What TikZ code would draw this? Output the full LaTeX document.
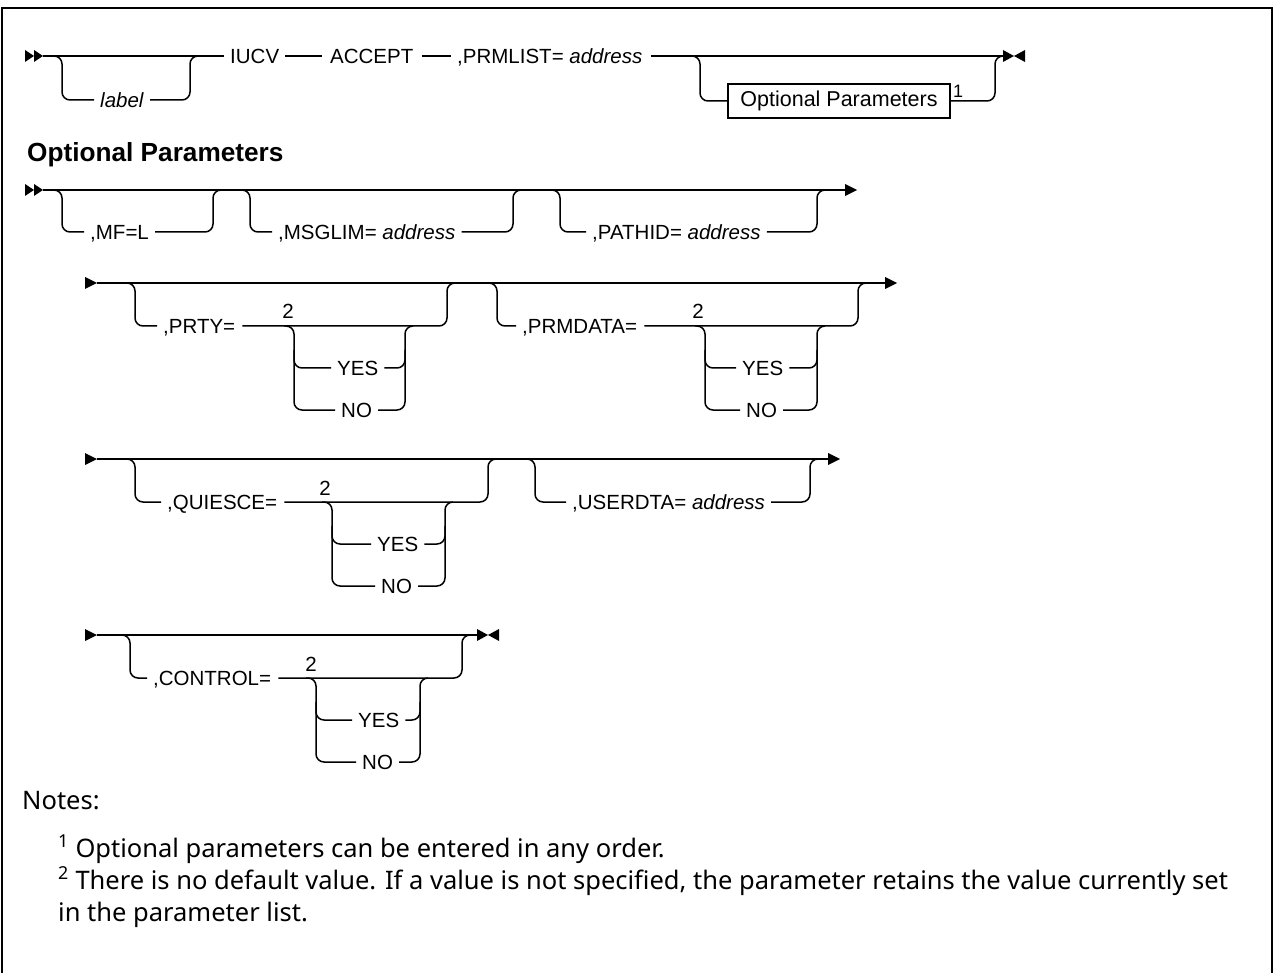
\documentclass[tikz,border=0pt]{standalone}
\usepackage{fontspec}
\setmainfont{Liberation Sans}
\newfontfamily\notefont{Noto Sans}
\begin{document}
\begin{tikzpicture}[x=1pt,y=-1pt,
  rl/.style={line width=1.5pt},
  rr/.style={line width=1.5pt, rounded corners=8pt},
  lbl/.style={anchor=west, inner sep=0pt, font=\fontsize{20.5}{24}\selectfont, text height=14.5pt, text depth=0pt},
  dflt/.style={anchor=base, inner sep=0pt, font=\fontsize{20.5}{24}\selectfont},
  optbox/.style={draw, line width=1.2pt, inner sep=0pt, minimum width=222pt, minimum height=34pt, font=\fontsize{21.5}{24}\selectfont},
  supnum/.style={inner sep=0pt, font=\fontsize{18}{20}\selectfont},
  note/.style={anchor=base west, inner sep=0pt, font=\notefont\fontsize{25.5}{30}\selectfont},
  hdr/.style={anchor=west, inner sep=0pt, font=\bfseries\fontsize{26.2}{30}\selectfont},
  frame/.style={line width=2pt}
]
\useasboundingbox (0,0) rectangle (1274,973);
\draw[frame] (2,973) -- (2,8) -- (1272,8) -- (1272,973);

% ---------------- Row 1 ----------------
\node[lbl] (iucv) at (230,56) {IUCV};
\node[lbl] (accept) at (330,56) {ACCEPT};
\node[lbl] (prmlist) at (457,56) {,PRMLIST= \textit{address}};
\node[lbl] (label) at (100,100) {\textit{label}};
\node[optbox] (optp) at (839,101) {Optional Parameters};
\node[supnum] (n1) at (958,91) {1};
\coordinate (s1) at (43,56);
\coordinate (e1) at (1003,56);
\fill (25,50) -- (34,56) -- (25,62) -- cycle;
\fill (34,50) -- (43,56) -- (34,62) -- cycle;
\fill (1003,50) -- (1014,56) -- (1003,62) -- cycle;
\fill (1025,50) -- (1014,56) -- (1025,62) -- cycle;
\draw[rl] (s1) -- ([xshift=-6pt]iucv.west);
\draw[rl] ([xshift=6pt]iucv.east) -- ([xshift=-8pt]accept.west);
\draw[rl] ([xshift=8pt]accept.east) -- ([xshift=-6pt]prmlist.west);
\draw[rl] ([xshift=8pt]prmlist.east) -- (e1);
\draw[rr] (52,56) -- (62,56) -- (62,100) -- ([xshift=-6pt]label.west);
\draw[rr] ([xshift=6pt]label.east) -- (190,100) -- (190,56) -- (200,56);
\draw[rr] (690,56) -- (700,56) -- (700,101) -- (optp.west);
\draw[rr] (optp.east) -- (995,101) -- (995,56) -- (1003,56);

% ---------------- Row 2 ----------------
\node[hdr] (ophdr) at (27,155) {Optional Parameters};
\node[lbl] (mfl) at (90,232) {,MF=L};
\node[lbl] (msglim) at (278,232) {,MSGLIM= \textit{address}};
\node[lbl] (pathid) at (592,232) {,PATHID= \textit{address}};
\coordinate (s2) at (43,190);
\coordinate (e2) at (845,190);
\fill (25,184) -- (34,190) -- (25,196) -- cycle;
\fill (34,184) -- (43,190) -- (34,196) -- cycle;
\fill (845,184) -- (857,190) -- (845,196) -- cycle;
\draw[rl] (s2) -- (e2);
\draw[rr] (52,190) -- (62,190) -- (62,232) -- ([xshift=-6pt]mfl.west);
\draw[rr] ([xshift=6pt]mfl.east) -- (213,232) -- (213,190) -- (222,190);
\draw[rr] (240,190) -- (250,190) -- (250,232) -- ([xshift=-6pt]msglim.west);
\draw[rr] ([xshift=6pt]msglim.east) -- (513,232) -- (513,190) -- (522,190);
\draw[rr] (550,190) -- (560,190) -- (560,232) -- ([xshift=-6pt]pathid.west);
\draw[rr] ([xshift=6pt]pathid.east) -- (817,232) -- (817,190) -- (826,190);

% ---------------- Row 3 ----------------
\node[lbl] (prty) at (163,326) {,PRTY=};
\node[dflt] (d1) at (288,319) {2};
\node[lbl] (yes1) at (337,368) {YES};
\node[lbl] (no1) at (341,410) {NO};
\node[lbl] (prmdata) at (522,326) {,PRMDATA=};
\node[dflt] (d2) at (698,319) {2};
\node[lbl] (yes2) at (742,368) {YES};
\node[lbl] (no2) at (746,410) {NO};
\coordinate (s3) at (97,283);
\coordinate (e3) at (885,283);
\fill (85,277) -- (97,283) -- (85,289) -- cycle;
\fill (885,277) -- (897,283) -- (885,289) -- cycle;
\draw[rl] (s3) -- (e3);
\draw[rr] (125,283) -- (135,283) -- (135,326) -- ([xshift=-6pt]prty.west);
\draw[rr] ([xshift=7pt]prty.east) -- (447,326) -- (447,283) -- (456,283);
\draw[rr] (284,326) -- (294,326) -- (294,410) -- ([xshift=-6pt]no1.west);
\draw[rr] (294,350) -- (294,368) -- ([xshift=-6pt]yes1.west);
\draw[rr] ([xshift=6pt]no1.east) -- (405,410) -- (405,326) -- (413,326);
\draw[rr] ([xshift=6pt]yes1.east) -- (405,368) -- (405,350);
\draw[rr] (487,283) -- (497,283) -- (497,326) -- ([xshift=-6pt]prmdata.west);
\draw[rr] ([xshift=7pt]prmdata.east) -- (858,326) -- (858,283) -- (867,283);
\draw[rr] (695,326) -- (705,326) -- (705,410) -- ([xshift=-6pt]no2.west);
\draw[rr] (705,350) -- (705,368) -- ([xshift=-6pt]yes2.west);
\draw[rr] ([xshift=6pt]no2.east) -- (817,410) -- (817,326) -- (825,326);
\draw[rr] ([xshift=6pt]yes2.east) -- (817,368) -- (817,350);

% ---------------- Row 4 ----------------
\node[lbl] (quiesce) at (167,502) {,QUIESCE=};
\node[dflt] (d3) at (325,495) {2};
\node[lbl] (yes3) at (377,544) {YES};
\node[lbl] (no3) at (381,586) {NO};
\node[lbl] (userdta) at (572,502) {,USERDTA= \textit{address}};
\coordinate (s4) at (97,459);
\coordinate (e4) at (828,459);
\fill (85,453) -- (97,459) -- (85,465) -- cycle;
\fill (828,453) -- (840,459) -- (828,465) -- cycle;
\draw[rl] (s4) -- (e4);
\draw[rr] (125,459) -- (135,459) -- (135,502) -- ([xshift=-6pt]quiesce.west);
\draw[rr] ([xshift=7pt]quiesce.east) -- (488,502) -- (488,459) -- (497,459);
\draw[rr] (322,502) -- (332,502) -- (332,586) -- ([xshift=-6pt]no3.west);
\draw[rr] (332,526) -- (332,544) -- ([xshift=-6pt]yes3.west);
\draw[rr] ([xshift=6pt]no3.east) -- (445,586) -- (445,502) -- (453,502);
\draw[rr] ([xshift=6pt]yes3.east) -- (445,544) -- (445,526);
\draw[rr] (525,459) -- (535,459) -- (535,502) -- ([xshift=-6pt]userdta.west);
\draw[rr] ([xshift=6pt]userdta.east) -- (810,502) -- (810,459) -- (819,459);

% ---------------- Row 5 ----------------
\node[lbl] (control) at (153,678) {,CONTROL=};
\node[dflt] (d4) at (311,671) {2};
\node[lbl] (yes4) at (358,720) {YES};
\node[lbl] (no4) at (362,762) {NO};
\coordinate (s5) at (97,635);
\coordinate (e5) at (477,635);
\fill (85,629) -- (97,635) -- (85,641) -- cycle;
\fill (477,629) -- (488,635) -- (477,641) -- cycle;
\fill (499,629) -- (488,635) -- (499,641) -- cycle;
\draw[rl] (s5) -- (e5);
\draw[rr] (120,635) -- (130,635) -- (130,678) -- ([xshift=-6pt]control.west);
\draw[rr] ([xshift=7pt]control.east) -- (462,678) -- (462,635) -- (471,635);
\draw[rr] (306,678) -- (316,678) -- (316,762) -- ([xshift=-6pt]no4.west);
\draw[rr] (316,702) -- (316,720) -- ([xshift=-6pt]yes4.west);
\draw[rr] ([xshift=6pt]no4.east) -- (420,762) -- (420,678) -- (428,678);
\draw[rr] ([xshift=6pt]yes4.east) -- (420,720) -- (420,702);

% ---------------- Notes ----------------
\node[note] (notes) at (22,809) {Notes:};
\node[note] (note1) at (58,857) {\textsuperscript{1} Optional parameters can be entered in any order.};
\node[note] (note2) at (58,889) {\textsuperscript{2} There is no default value. If a value is not specified, the parameter retains the value currently set};
\node[note] (note3) at (58,921) {in the parameter list.};
\end{tikzpicture}
\end{document}
